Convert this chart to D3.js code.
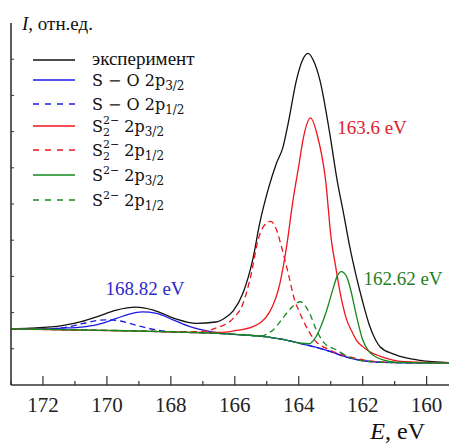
<!DOCTYPE html>
<html>
<head>
<meta charset="utf-8">
<script src="https://cdn.jsdelivr.net/npm/d3@7"></script>
<style>
  body { margin: 0; background: #fff; }
  svg { display: block; }
  .serif { font-family: "Liberation Serif", "Times New Roman", serif; }
  .math { font-family: "DejaVu Serif", serif; }
</style>
</head>
<body>
<div id="chart"></div>
<script>
// S 2p spectrum (E in eV, I in arbitrary units)
var experiment = [
  [173, 1.55], [172.4, 1.57], [171.4, 1.64], [170.8, 1.75], [170.3, 1.89], [169.7, 2.07],
  [169.1, 2.15], [168.55, 2.07], [167.9, 1.84], [167.2, 1.70], [166.6, 1.74], [166.3, 1.86],
  [166.05, 2.05], [165.74, 2.55], [165.43, 3.50], [165.22, 4.47], [164.96, 5.39], [164.7, 6.12],
  [164.49, 6.58], [164.33, 7.23], [164.07, 8.43], [163.88, 8.98], [163.71, 9.16], [163.56, 9.0],
  [163.34, 8.43], [163.03, 6.95], [162.8, 5.66], [162.6, 4.75], [162.4, 3.8], [162.2, 3.0],
  [162.0, 2.3], [161.8, 1.68], [161.6, 1.25], [161.45, 1.05], [161.05, 0.86], [160.6, 0.74],
  [160.2, 0.68], [159.3, 0.62]
];
var so32 = [
  [173, 1.55], [172, 1.55], [171.4, 1.57], [170.8, 1.60], [170.3, 1.67], [169.7, 1.84],
  [169.3, 1.96], [168.9, 2.02], [168.45, 1.98], [167.93, 1.80], [167.4, 1.61], [166.8, 1.48],
  [166.2, 1.41], [165.5, 1.37], [165, 1.33], [164.5, 1.26], [164, 1.16], [163.5, 1.05],
  [163, 0.92], [162.5, 0.77], [162, 0.67], [161.5, 0.63], [161, 0.62], [160, 0.61], [159.3, 0.61]
];
var so12 = [
  [173, 1.55], [172, 1.55], [171.4, 1.58], [170.74, 1.70], [170.3, 1.78], [170.0, 1.80],
  [169.6, 1.77], [169.0, 1.63], [168.45, 1.52], [168, 1.47], [167, 1.44], [166, 1.40],
  [165.5, 1.37], [165, 1.33], [164.5, 1.26], [164, 1.16], [163.5, 1.05], [163, 0.92],
  [162.5, 0.77], [162, 0.67], [161.5, 0.63], [161, 0.62], [160, 0.61], [159.3, 0.61]
];
var s2_32 = [
  [173, 1.55], [171, 1.52], [169, 1.49], [168, 1.47], [167, 1.45], [166.47, 1.45],
  [166, 1.50], [165.43, 1.61], [164.91, 2.02], [164.59, 2.8], [164.38, 3.82], [164.18, 5.1],
  [164.0, 6.05], [163.85, 6.85], [163.63, 7.38], [163.42, 6.9], [163.16, 5.66], [162.98, 4.0],
  [162.85, 3.3], [162.72, 2.62], [162.5, 1.8], [162.35, 1.5], [162.2, 1.24], [162.0, 1.06],
  [161.7, 0.88], [161.47, 0.80], [161.05, 0.69], [160.5, 0.64], [159.3, 0.62]
];
var s2_12 = [
  [173, 1.55], [171, 1.52], [169, 1.49], [168, 1.47], [167, 1.48], [166.6, 1.57],
  [166.05, 1.84], [165.74, 2.26], [165.48, 3.09], [165.27, 4.01], [165.1, 4.38], [164.88, 4.52],
  [164.7, 4.3], [164.54, 3.82], [164.33, 3.09], [164.13, 2.35], [163.97, 2.0], [163.87, 1.80],
  [163.5, 1.24], [163.03, 0.97], [162.41, 0.78], [161.47, 0.64], [160.5, 0.62], [159.3, 0.61]
];
var s_32 = [
  [173, 1.55], [170, 1.51], [168, 1.47], [166, 1.40], [165, 1.33], [164.5, 1.26], [164, 1.16],
  [163.66, 1.14], [163.5, 1.28], [163.34, 1.55], [163.13, 2.05], [162.93, 2.65], [162.8, 3.0],
  [162.67, 3.13], [162.52, 3.02], [162.41, 2.75], [162.2, 1.93], [162.0, 1.25], [161.8, 0.92],
  [161.6, 0.78], [161.3, 0.68], [161.0, 0.63], [160, 0.61], [159.3, 0.61]
];
var s_12 = [
  [173, 1.55], [170, 1.51], [168, 1.47], [166, 1.40], [165.2, 1.35], [164.91, 1.45],
  [164.8, 1.52], [164.54, 1.80], [164.2, 2.16], [163.95, 2.30], [163.66, 1.98], [163.45, 1.52],
  [163.19, 1.15], [162.82, 0.97], [162.5, 0.8], [162, 0.67], [161.5, 0.63], [161, 0.62],
  [160, 0.61], [159.3, 0.61]
];

var xTicks = [172, 170, 168, 166, 164, 162, 160];
var xMinor = [173, 171, 169, 167, 165, 163, 161];
var peakLabels = [
  {e: 168.82, text: "168.82 eV", color: "#2a2ac8"},
  {e: 163.6, text: "163.6 eV", color: "#e0202a"},
  {e: 162.62, text: "162.62 eV", color: "#1f7f1f"}
];

var width = 449, height = 445;

var svg = d3.select("#chart").append("svg")
    .attr("width", width)
    .attr("height", height);

var x = d3.scaleLinear().domain([173, 159.3]).range([11, 449]);
var y = d3.scaleLinear().domain([0, 10]).range([385, 23]);

var line = d3.line()
    .x(function(d) { return x(d[0]); })
    .y(function(d) { return y(d[1]); })
    .curve(d3.curveMonotoneX);

var series = [
  {name: "experiment", data: experiment, color: "#111", dash: null},
  {name: "so32", data: so32, color: "#1a1ae6", dash: null},
  {name: "so12", data: so12, color: "#1a1ae6", dash: "6,4"},
  {name: "s2_32", data: s2_32, color: "#f0141e", dash: null},
  {name: "s2_12", data: s2_12, color: "#f0141e", dash: "6,4"},
  {name: "s_32", data: s_32, color: "#14871e", dash: null},
  {name: "s_12", data: s_12, color: "#14871e", dash: "6,4"}
];

svg.append("g").selectAll("path")
  .data(series)
  .enter().append("path")
    .attr("d", function(d) { return line(d.data); })
    .attr("fill", "none")
    .attr("stroke", function(d) { return d.color; })
    .attr("stroke-width", 1.3)
    .attr("stroke-dasharray", function(d) { return d.dash; });

// axes
var axisColor = "#333";
var xAxis = svg.append("g").attr("transform", "translate(0,385)");
xAxis.append("line").attr("x1", 11).attr("x2", 449).attr("stroke", axisColor).attr("stroke-width", 1.6);
xAxis.selectAll(".major").data(xTicks).enter().append("line")
    .attr("x1", function(d) { return x(d); }).attr("x2", function(d) { return x(d); })
    .attr("y1", 0).attr("y2", -9)
    .attr("stroke", axisColor).attr("stroke-width", 1.2);
xAxis.selectAll(".minor").data(xMinor).enter().append("line")
    .attr("x1", function(d) { return x(d); }).attr("x2", function(d) { return x(d); })
    .attr("y1", 0).attr("y2", -4)
    .attr("stroke", axisColor).attr("stroke-width", 1.2);
xAxis.selectAll("text").data(xTicks).enter().append("text")
    .attr("class", "serif")
    .attr("x", function(d) { return x(d); })
    .attr("y", 27)
    .attr("text-anchor", "middle")
    .attr("font-size", 21)
    .attr("fill", "#222")
    .text(function(d) { return d; });

var yAxis = svg.append("g");
yAxis.append("line").attr("x1", 11).attr("x2", 11).attr("y1", 23).attr("y2", 385)
    .attr("stroke", axisColor).attr("stroke-width", 1.6);
yAxis.selectAll(".tick").data(d3.range(1, 10)).enter().append("line")
    .attr("x1", 11).attr("x2", 14)
    .attr("y1", function(d) { return y(d); }).attr("y2", function(d) { return y(d); })
    .attr("stroke", axisColor).attr("stroke-width", 1);

// axis titles
var yTitle = svg.append("text").attr("class", "serif").attr("x", 22).attr("y", 30)
    .attr("font-size", 19).attr("fill", "#111");
yTitle.append("tspan").style("font-style", "italic").text("I");
yTitle.append("tspan").text(", отн.ед.");

var xTitle = svg.append("text").attr("class", "serif").attr("x", 425).attr("y", 439)
    .attr("text-anchor", "end").attr("font-size", 24).attr("fill", "#111");
xTitle.append("tspan").style("font-style", "italic").text("E");
xTitle.append("tspan").text(", eV");

// peak labels
var labelPos = [[145, 295], [372, 134], [403, 285]];
svg.selectAll(".plabel").data(peakLabels).enter().append("text")
    .attr("class", "serif")
    .attr("x", function(d, i) { return labelPos[i][0]; })
    .attr("y", function(d, i) { return labelPos[i][1]; })
    .attr("text-anchor", "middle")
    .attr("font-size", 19)
    .attr("fill", function(d) { return d.color; })
    .text(function(d) { return d.text; });

// legend
var legendRows = [60, 80, 104, 126, 150, 175, 200];
var lg = svg.append("g");
series.forEach(function(s, i) {
  var yy = legendRows[i];
  lg.append("line").attr("x1", 33).attr("x2", 75).attr("y1", yy).attr("y2", yy)
    .attr("stroke", s.color).attr("stroke-width", 1.3)
    .attr("stroke-dasharray", s.dash ? "6,6" : null);
});

lg.append("text").attr("class", "serif").attr("x", 92).attr("y", 65)
    .attr("font-size", 19).attr("fill", "#111").text("эксперимент");

function mathLabel(row, kind, half) {
  var t = lg.append("text").attr("class", "math").attr("x", 92).attr("y", legendRows[row] + 6)
      .attr("font-size", 16).attr("fill", "#111");
  t.append("tspan").text("S");
  if (kind === "so") {
    t.append("tspan").text(" \u2212 O 2p");
  } else if (kind === "s2") {
    t.append("tspan").attr("dy", 4).style("font-size", "11px").text("2");
    t.append("tspan").attr("dx", -7).attr("dy", -12).style("font-size", "11px").text("2\u2212");
    t.append("tspan").attr("dy", 8).text(" 2p");
  } else {
    t.append("tspan").attr("dy", -7).style("font-size", "11px").text("2\u2212");
    t.append("tspan").attr("dy", 7).text(" 2p");
  }
  t.append("tspan").attr("dy", 4).style("font-size", "12px").text(half);
}
mathLabel(1, "so", "3/2");
mathLabel(2, "so", "1/2");
mathLabel(3, "s2", "3/2");
mathLabel(4, "s2", "1/2");
mathLabel(5, "s", "3/2");
mathLabel(6, "s", "1/2");
</script>
</body>
</html>
